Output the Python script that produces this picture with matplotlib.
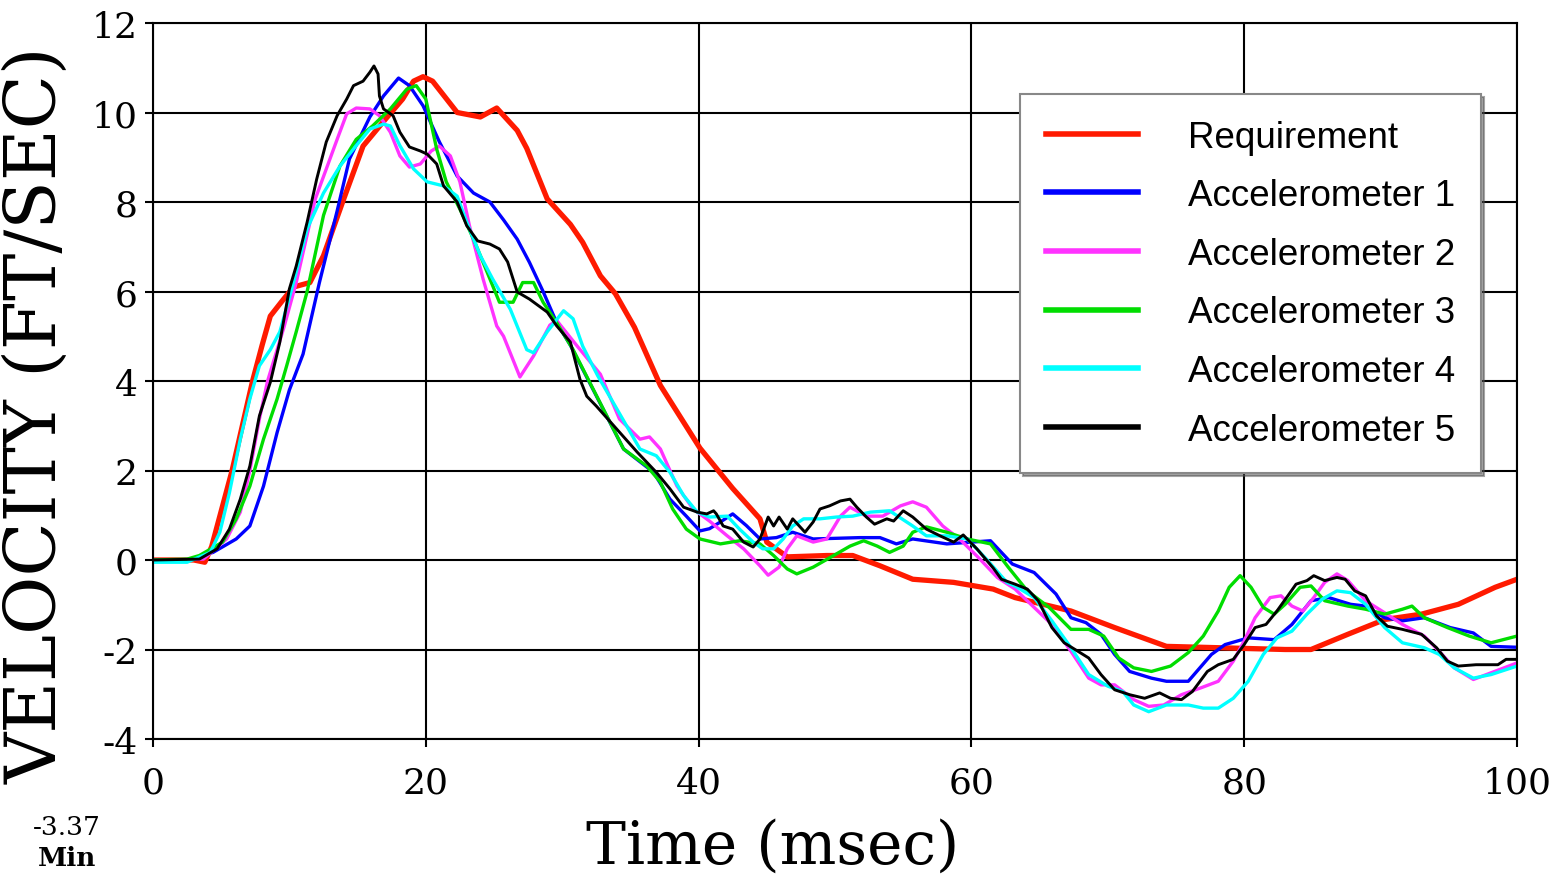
import matplotlib
matplotlib.use("Agg")
import matplotlib.pyplot as plt

# Requirement
t_req = [0, 3, 3.8, 4.3, 5.8, 7.3, 8.0, 8.6, 9.5, 10.3, 11.5, 12.5, 13.9, 15.4, 16.9, 18.3, 19.1, 19.8,
         20.5, 22.3, 24.0, 25.2, 26.7, 27.4, 28.9, 30.6, 31.5, 32.8, 33.9, 35.3, 37.2, 40.1, 42.5, 44.5,
         45.0, 46.5, 49.4, 51.3, 53.3, 55.7, 58.7, 61.6, 63.2, 67.3, 70.5, 74.3, 78.1, 83.0, 84.9, 87.6,
         90.3, 93.0, 95.7, 98.4, 100]
v_req = [0, 0, -0.05, 0.3, 2.0, 4.0, 4.8, 5.45, 5.8, 6.1, 6.2, 6.8, 8.0, 9.25, 9.8, 10.3, 10.7, 10.8,
         10.7, 10.0, 9.9, 10.1, 9.6, 9.2, 8.07, 7.5, 7.1, 6.35, 5.95, 5.2, 3.9, 2.5, 1.6, 0.92,
         0.4, 0.07, 0.1, 0.1, -0.13, -0.43, -0.5, -0.65, -0.84, -1.14, -1.51, -1.93, -1.96, -2.0, -2.0, -1.66,
         -1.33, -1.21, -0.99, -0.61, -0.43]

# Accelerometer 1
t_a1 = [0, 2.5, 4.4, 6.1, 7.1, 8.1, 9.1, 10.0, 11.0, 12.2, 13.5, 14.4, 15.9, 16.9, 18.0, 18.8, 19.8,
        21.0, 22.3, 23.5, 24.7, 25.7, 26.7, 27.6, 28.6, 29.6, 30.6, 34.5, 36.7, 37.9, 39.1, 40.1, 40.8,
        41.6, 42.5, 43.5, 44.5, 45.7, 46.9, 48.4, 51.8, 53.3, 54.5, 55.7, 58.2, 61.4, 63.0, 64.6, 66.2,
        67.3, 68.4, 69.5, 70.5, 71.6, 73.2, 74.3, 75.9, 77.6, 78.6, 80.3, 82.2, 83.5, 84.9, 86.2, 87.8,
        88.9, 90.3, 91.6, 93.2, 95.1, 96.8, 98.1, 100]
v_a1 = [0, 0, 0.17, 0.47, 0.76, 1.65, 2.85, 3.8, 4.6, 6.2, 7.8, 8.96, 9.9, 10.37, 10.77, 10.6, 10.15,
        9.34, 8.58, 8.2, 8.0, 7.6, 7.17, 6.65, 6.0, 5.3, 4.8, 2.48, 1.96, 1.36, 0.98, 0.65, 0.7,
        0.85, 1.03, 0.77, 0.47, 0.5, 0.62, 0.47, 0.5, 0.5, 0.36, 0.47, 0.36, 0.43, -0.09, -0.28, -0.76,
        -1.29, -1.4, -1.66, -2.11, -2.49, -2.64, -2.71, -2.71, -2.11, -1.89, -1.74, -1.78, -1.44, -0.91, -0.84, -0.99,
        -1.03, -1.29, -1.36, -1.29, -1.51, -1.63, -1.93, -1.95]

# Accelerometer 2
t_a2 = [0, 3.7, 5.4, 6.4, 7.1, 7.8, 8.4, 9.1, 9.6, 10.5, 11.9, 13.5, 14.2, 14.9, 15.9, 16.6, 17.4,
        18.1, 18.8, 19.6, 20.4, 21.0, 21.8, 22.5, 23.2, 24.2, 25.2, 25.7, 26.9, 27.9, 29.1, 29.6, 31.1,
        32.8, 34.2, 35.7, 36.4, 37.2, 38.4, 39.6, 40.8, 42.1, 43.3, 44.5, 45.1, 45.9, 46.5, 47.2, 48.4,
        49.4, 50.4, 51.1, 52.3, 53.5, 54.8, 55.7, 56.7, 57.9, 59.2, 60.5, 61.9, 63.2, 64.6, 65.9, 67.3,
        68.6, 69.5, 70.5, 71.9, 73.0, 74.1, 75.4, 76.8, 78.1, 79.2, 80.0, 80.8, 81.9, 82.7, 83.5, 84.3,
        85.1, 85.9, 86.8, 87.6, 88.9, 90.3, 91.6, 93.2, 94.3, 95.4, 96.8, 98.1, 100]
v_a2 = [0, 0.02, 0.47, 1.07, 2.0, 3.15, 4.0, 4.7, 5.2, 6.2, 8.07, 9.4, 9.97, 10.1, 10.08, 9.93, 9.56,
        9.03, 8.78, 8.85, 9.14, 9.25, 9.03, 8.45, 7.47, 6.28, 5.23, 5.0, 4.09, 4.56, 5.25, 5.35, 4.78,
        4.15, 3.15, 2.7, 2.75, 2.48, 1.66, 1.14, 0.87, 0.54, 0.25, -0.13, -0.34, -0.16, 0.25, 0.54, 0.4,
        0.47, 0.98, 1.18, 0.98, 0.98, 1.21, 1.3, 1.18, 0.76, 0.45, 0.06, -0.39, -0.65, -1.06, -1.44, -2.04,
        -2.64, -2.79, -2.79, -3.12, -3.27, -3.24, -3.01, -2.86, -2.71, -2.26, -1.81, -1.29, -0.84, -0.8, -1.03, -1.14,
        -0.84, -0.5, -0.31, -0.46, -0.91, -1.18, -1.44, -1.7, -2.04, -2.41, -2.67, -2.52, -2.3]

# Accelerometer 3
t_a3 = [0, 2.5, 3.4, 5.1, 6.1, 7.1, 8.1, 9.1, 9.8, 10.5, 11.3, 12.5, 13.7, 14.9, 16.1, 17.4, 18.6,
        19.3, 20.0, 20.8, 21.5, 22.5, 23.5, 24.5, 25.4, 26.4, 27.1, 27.9, 28.6, 29.6, 30.8, 34.5, 36.2,
        37.2, 38.1, 39.1, 40.1, 41.6, 43.0, 44.5, 45.5, 46.5, 47.2, 48.4, 49.9, 51.1, 52.1, 53.1, 54.0,
        55.0, 55.7, 56.7, 58.2, 59.7, 61.4, 62.7, 64.1, 65.7, 67.3, 68.6, 69.7, 70.8, 71.9, 73.2, 74.6,
        75.9, 77.0, 78.1, 78.9, 79.7, 80.5, 81.4, 82.2, 83.0, 84.1, 84.9, 85.9, 87.6, 88.9, 90.3, 91.6,
        92.3, 93.2, 94.9, 96.5, 98.1, 100]
v_a3 = [0, 0.02, 0.1, 0.4, 0.92, 1.65, 2.7, 3.6, 4.34, 5.1, 6.0, 7.7, 8.8, 9.4, 9.7, 10.08, 10.52,
        10.6, 10.3, 9.18, 8.45, 7.84, 7.17, 6.43, 5.76, 5.76, 6.2, 6.2, 5.76, 5.3, 4.7, 2.48, 2.1,
        1.74, 1.14, 0.69, 0.47, 0.36, 0.43, 0.36, 0.1, -0.2, -0.31, -0.16, 0.1, 0.31, 0.43, 0.31, 0.17,
        0.31, 0.62, 0.74, 0.62, 0.47, 0.36, -0.16, -0.69, -1.06, -1.55, -1.55, -1.7, -2.19, -2.41, -2.49, -2.37,
        -2.07, -1.7, -1.14, -0.61, -0.35, -0.61, -1.06, -1.21, -0.99, -0.61, -0.58, -0.91, -1.03, -1.1, -1.21, -1.1,
        -1.03, -1.29, -1.51, -1.7, -1.85, -1.7]

# Accelerometer 4
t_a4 = [0, 2.5, 4.2, 4.9, 5.6, 6.4, 7.1, 7.8, 8.6, 9.3, 10.3, 11.3, 12.5, 13.7, 14.9, 15.9, 16.9,
        17.4, 18.1, 19.1, 20.1, 21.3, 22.3, 23.0, 24.0, 24.9, 26.2, 27.4, 27.9, 28.9, 30.1, 30.8, 31.5,
        32.6, 35.7, 36.9, 37.9, 38.9, 39.9, 40.8, 42.1, 43.0, 44.0, 44.7, 45.5, 46.2, 46.9, 47.7, 48.9,
        50.1, 51.3, 52.6, 54.0, 55.7, 56.7, 58.2, 59.7, 61.1, 62.6, 63.2, 64.6, 65.9, 67.3, 68.6, 70.0,
        71.1, 71.9, 73.0, 74.3, 75.9, 77.0, 78.1, 79.2, 80.3, 81.4, 82.4, 83.5, 84.6, 85.7, 86.8, 87.8,
        88.9, 90.3, 91.6, 93.2, 94.3, 95.4, 96.8, 98.1, 100]
v_a4 = [-0.05, -0.05, 0.17, 0.62, 1.5, 2.7, 3.6, 4.34, 4.7, 5.1, 6.2, 7.4, 8.2, 8.8, 9.26, 9.63, 9.74,
        9.7, 9.26, 8.74, 8.45, 8.36, 8.13, 7.55, 6.8, 6.28, 5.6, 4.7, 4.63, 5.1, 5.57, 5.39, 4.78,
        4.12, 2.48, 2.33, 1.96, 1.44, 1.07, 0.96, 0.98, 0.69, 0.4, 0.25, 0.25, 0.47, 0.76, 0.92, 0.92,
        0.96, 0.98, 1.07, 1.1, 0.76, 0.54, 0.54, 0.47, 0.02, -0.5, -0.58, -0.84, -1.36, -1.96, -2.56, -2.82,
        -2.94, -3.24, -3.39, -3.24, -3.24, -3.31, -3.31, -3.09, -2.71, -2.11, -1.74, -1.59, -1.21, -0.88, -0.69, -0.73,
        -0.99, -1.51, -1.85, -1.96, -2.11, -2.41, -2.64, -2.56, -2.37]

# Accelerometer 5
t_a5 = [0, 3.4, 4.7, 5.6, 6.4, 7.1, 7.8, 8.6, 9.3, 10.0, 10.5, 11.3, 12.0, 12.7, 13.5, 14.2, 14.7,
        15.4, 15.9, 16.2, 16.5, 16.6, 16.9, 17.6, 18.1, 18.8, 19.6, 20.1, 20.8, 21.3, 22.3, 23.0, 23.8,
        24.7, 25.4, 26.0, 26.7, 27.6, 28.9, 29.6, 30.6, 31.3, 31.8, 32.5, 35.5, 36.9, 37.9, 38.9, 39.9,
        40.6, 41.1, 41.3, 41.8, 42.5, 43.3, 44.0, 44.5, 45.1, 45.5, 45.9, 46.5, 46.9, 47.8, 48.4, 48.9,
        49.6, 50.4, 51.1, 51.6, 52.3, 52.9, 53.8, 54.3, 55.0, 55.7, 56.7, 57.7, 58.7, 59.4, 60.4, 61.6,
        62.2, 63.2, 64.1, 64.9, 65.9, 66.8, 67.6, 68.6, 69.5, 70.5, 71.6, 72.7, 73.8, 74.6, 75.4, 76.2,
        77.3, 78.1, 79.2, 80.0, 80.8, 81.6, 82.4, 83.2, 83.8, 84.6, 85.1, 85.9, 86.8, 87.4, 88.1, 88.9,
        89.7, 90.5, 91.6, 93.0, 94.1, 94.9, 95.7, 97.0, 98.6, 99.2, 100]
v_a5 = [0, 0.02, 0.25, 0.69, 1.36, 2.1, 3.22, 3.97, 4.87, 6.06, 6.57, 7.55, 8.51, 9.34, 9.93, 10.3, 10.6,
        10.7, 10.9, 11.04, 10.86, 10.37, 10.08, 9.93, 9.56, 9.23, 9.14, 9.07, 8.85, 8.36, 8.0, 7.47, 7.13,
        7.06, 6.95, 6.66, 5.99, 5.83, 5.54, 5.23, 4.87, 4.04, 3.66, 3.44, 2.41, 1.96, 1.59, 1.18, 1.07,
        1.03, 1.1, 1.03, 0.76, 0.69, 0.4, 0.29, 0.47, 0.96, 0.76, 0.96, 0.69, 0.92, 0.62, 0.85, 1.14,
        1.21, 1.32, 1.36, 1.18, 0.96, 0.8, 0.92, 0.87, 1.1, 0.96, 0.69, 0.54, 0.4, 0.56, 0.25, -0.18,
        -0.43, -0.54, -0.65, -0.91, -1.51, -1.85, -2.0, -2.19, -2.56, -2.9, -3.01, -3.09, -2.97, -3.09, -3.12, -2.94,
        -2.49, -2.34, -2.22, -1.89, -1.51, -1.44, -1.14, -0.8, -0.54, -0.46, -0.35, -0.46, -0.39, -0.43, -0.69, -0.8,
        -1.25, -1.48, -1.55, -1.66, -1.96, -2.26, -2.37, -2.34, -2.34, -2.22, -2.22]

series = [
    ("Requirement", t_req, v_req, "#ff1a00", 3.8),
    ("Accelerometer 1", t_a1, v_a1, "#0000ff", 2.4),
    ("Accelerometer 2", t_a2, v_a2, "#ff33ff", 2.4),
    ("Accelerometer 3", t_a3, v_a3, "#00dd00", 2.4),
    ("Accelerometer 4", t_a4, v_a4, "#00ffff", 2.4),
    ("Accelerometer 5", t_a5, v_a5, "#000000", 2.1),
]

x_ticks = [0, 20, 40, 60, 80, 100]
y_ticks = [-4, -2, 0, 2, 4, 6, 8, 10, 12]

fig = plt.figure(figsize=(15.64, 8.79), dpi=100)
ax = fig.add_axes([153 / 1564, 1 - 740 / 879, (1517 - 153) / 1564, (740 - 24) / 879])

for label, t, v, c, lw in series:
    ax.plot(t, v, color=c, lw=lw, label=label)

ax.set_xlim(0, 100)
ax.set_ylim(-4, 12)
ax.set_xticks(x_ticks)
ax.set_yticks(y_ticks)
ax.set_xticklabels([str(x) for x in x_ticks])
ax.set_yticklabels([str(y) for y in y_ticks])
ax.grid(True, color="black", lw=1.5)
ax.set_axisbelow(True)
for s in ax.spines.values():
    s.set_linewidth(1.5)
ax.tick_params(axis="both", direction="out", length=6, width=1.5, labelsize=26)
ax.tick_params(axis="y", pad=5)
ax.tick_params(axis="x", pad=13)
for lab in ax.get_xticklabels() + ax.get_yticklabels():
    lab.set_family("DejaVu Serif")

fig.text(37 / 1564, 1 - 415 / 879, "VELOCITY (FT/SEC)", rotation=90, ha="center", va="center",
         family="DejaVu Serif", fontsize=51)
fig.text(773 / 1564, 1 - 847 / 879, "Time (msec)", ha="center", va="center",
         family="DejaVu Serif", fontsize=43)
fig.text(67 / 1564, 1 - 828 / 879, "-3.37", ha="center", va="center", family="DejaVu Serif", fontsize=19)
fig.text(67 / 1564, 1 - 859 / 879, "Min", ha="center", va="center", family="DejaVu Serif",
         fontsize=19, weight="bold")

leg = ax.legend(loc="upper left", bbox_to_anchor=(1020 / 1564, 1 - 95 / 879), bbox_transform=fig.transFigure,
                borderaxespad=0, frameon=True, fancybox=False, shadow=True,
                prop={"family": "Liberation Sans", "size": 26.5},
                handlelength=2.5, handletextpad=1.36, labelspacing=0.64, borderpad=0.7)
leg.get_frame().set_edgecolor("#888888")
leg.get_frame().set_linewidth(1.5)
for line in leg.get_lines():
    line.set_linewidth(4)

fig.savefig("out.png", dpi=100)
